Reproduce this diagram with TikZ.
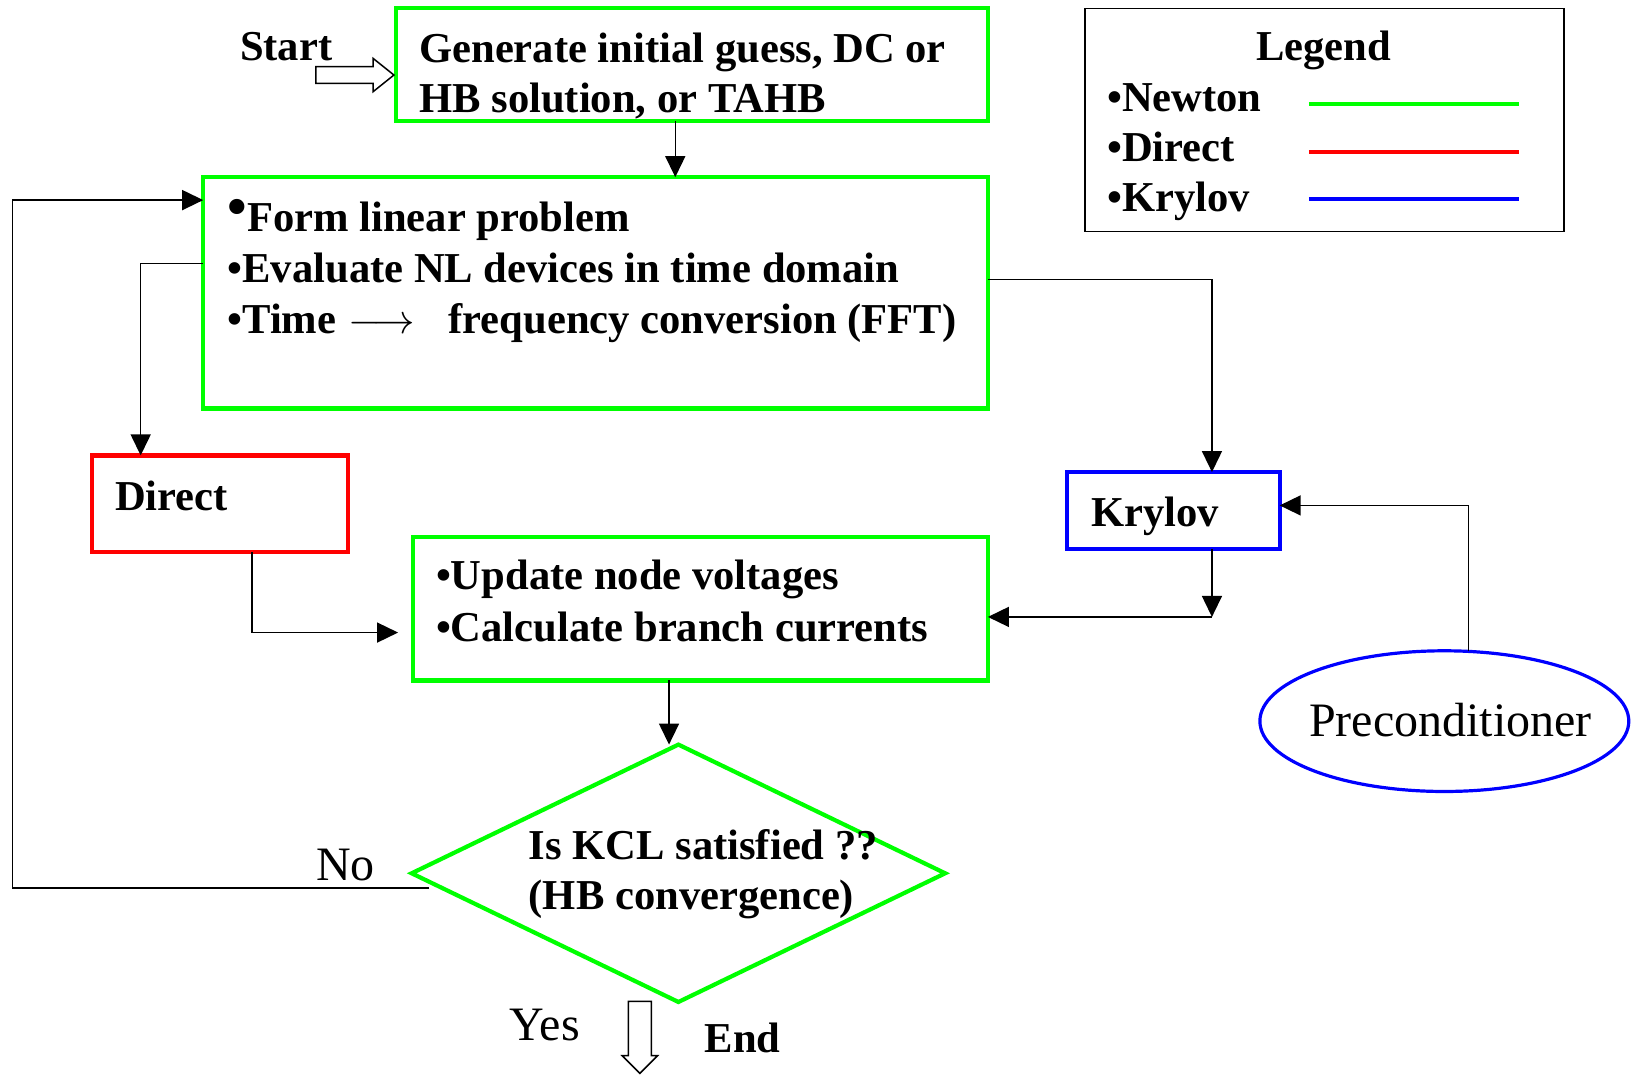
\documentclass[tikz,border=0pt]{standalone}
\usepackage{fontspec}
\setmainfont{Liberation Serif}
\usetikzlibrary{arrows.meta,shapes.geometric,calc}
\definecolor{ngreen}{RGB}{0,255,0}
\definecolor{nred}{RGB}{255,0,0}
\definecolor{nblue}{RGB}{0,0,255}
\newcommand\pxu{0.521pt}
\begin{document}
\begin{tikzpicture}[x=0.521pt,y=-0.521pt,
  bx/.style={draw,line width=2.1pt,inner sep=0pt,outer sep=0pt,anchor=north west},
  txt/.style={anchor=base west,inner sep=0pt,font=\fontsize{21.3}{25}\selectfont\bfseries},
  lbl/.style={anchor=base west,inner sep=0pt,font=\fontsize{24}{28}\selectfont},
  conn/.style={draw=black,line width=0.75pt,-{Triangle[length=10.5pt,width=10pt]}},
  hollow/.style={draw=black,line width=0.75pt,fill=white},
  legline/.style={line width=2.1pt}]
\useasboundingbox (0,0) rectangle (1568,1033);

% boxes
\node[bx,draw=ngreen,minimum width=568*\pxu,minimum height=108*\pxu] (gen) at (380,8) {};
\node[bx,draw=ngreen,minimum width=753*\pxu,minimum height=222*\pxu] (form) at (195,170) {};
\node[bx,draw=nred,minimum width=246*\pxu,minimum height=93*\pxu] (direct) at (88,437) {};
\node[bx,draw=nblue,minimum width=204*\pxu,minimum height=74*\pxu] (kry) at (1024,453) {};
\node[bx,draw=ngreen,minimum width=552*\pxu,minimum height=138*\pxu] (upd) at (396,515) {};
\node[draw=ngreen,line width=2.1pt,diamond,minimum width=512*\pxu,minimum height=247*\pxu,inner sep=0pt,outer sep=0pt] (dia) at (651,838) {};
\node[draw=nblue,line width=1.6pt,ellipse,minimum width=354*\pxu,minimum height=135*\pxu,inner sep=0pt,outer sep=0pt] (pre) at (1386,692) {};
\node[bx,draw=black,line width=0.8pt,minimum width=460*\pxu,minimum height=214*\pxu] (leg) at (1041,8) {};

% texts
\node[txt] (start) at (230,58) {Start};
\node[txt] (g1) at (402,60) {Generate initial guess, DC or};
\node[txt] (g2) at (402,108) {HB solution, or TAHB};
\node[txt] (f1) at (218,222) {\raisebox{3pt}{\fontsize{28}{28}\selectfont•}Form linear problem};
\node[txt] (f2) at (218,271) {•Evaluate NL devices in time domain};
\node[txt] (f3) at (218,320) {•Time};
\node[anchor=base west,inner sep=0pt,font=\fontsize{21.3}{25}\selectfont] (f3a) at (334,320) {$\longrightarrow$};
\node[txt] (f3b) at (430,320) {frequency conversion (FFT)};
\node[txt] (dtx) at (110,490) {Direct};
\node[txt] (ktx) at (1047,505) {Krylov};
\node[txt] (u1) at (418,566) {•Update node voltages};
\node[txt] (u2) at (418,616) {•Calculate branch currents};
\node[txt] (q1) at (507,825) {Is KCL satisfied ??};
\node[txt] (q2) at (507,873) {(HB convergence)};
\node[lbl] (no) at (303,845) {No};
\node[lbl] (yes) at (489,998) {Yes};
\node[txt] (endt) at (676,1010) {End};
\node[lbl] (ptx) at (1256,707) {Preconditioner};

% legend
\node[txt,anchor=base] (lt) at (1270,58) {Legend};
\node[txt] (ln) at (1062,107) {•Newton};
\node[txt] (ld) at (1062,155) {•Direct};
\node[txt] (lk) at (1062,203) {•Krylov};
\draw[legline,ngreen] (1256,100) -- (1458,100);
\draw[legline,nred] (1256,146) -- (1458,146);
\draw[legline,nblue] (1256,191) -- (1458,191);

% hollow arrows
\draw[hollow] (303,64) -- (358,64) -- (358,56) -- (378,72) -- (358,88) -- (358,80) -- (303,80) -- cycle;
\draw[hollow] (603,961) -- (625,961) -- (625,1013) -- (631,1013) -- (614,1030) -- (597,1013) -- (603,1013) -- cycle;

% connectors
\draw[conn] (648,0 |- gen.south) -- (648,0 |- form.north);
\coordinate (noend) at (412,852);
\draw[conn] (noend) -- (12,852) |- (form.west |- 0,192);
\draw[conn] (form.west |- 0,253) -| (135,0 |- direct.north);
\draw[conn] (form.east |- 0,268) -| (1163,0 |- kry.north);
\coordinate (dtip) at (382,607);
\draw[conn] (242,0 |- direct.south) |- (dtip);
\coordinate (kj) at (1163,592);
\draw[conn] (1163,0 |- kry.south) -- (kj);
\draw[conn] (kj) -- (upd.east |- kj);
\draw[conn] (1409,625) |- (kry.east |- 0,485);
\draw[conn] (642,0 |- upd.south) -- (642,0 |- dia.north);
\end{tikzpicture}
\end{document}
